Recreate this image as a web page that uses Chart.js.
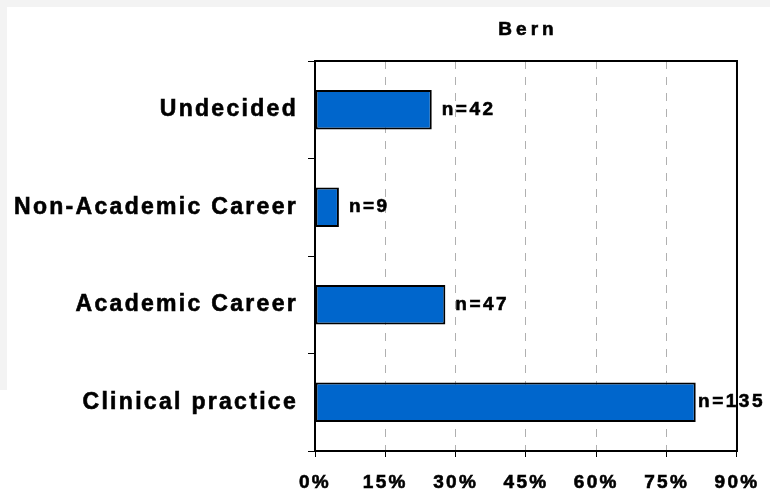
<!DOCTYPE html>
<html>
<head>
<meta charset="utf-8">
<script src="https://cdn.jsdelivr.net/npm/chart.js@4/dist/chart.umd.min.js"></script>
<style>
    body { margin: 0; background: #ffffff; }
    #wrap { position: relative; width: 770px; height: 498px; overflow: hidden; }
    .strip { position: absolute; background: #f3f3f3; }
    #chart { position: absolute; left: 0; top: 0; }
</style>
</head>
<body>
<div id="wrap">
    <div class="strip" style="left:0;top:0;width:770px;height:7px"></div>
    <div class="strip" style="left:0;top:0;width:7px;height:390px"></div>
    <canvas id="chart" width="770" height="498"></canvas>
</div>
<script>
// datos (porcentaje y n por categoria)
var categories = ['Undecided', 'Non-Academic Career', 'Academic Career', 'Clinical practice'];
var percentValues = [24.9, 5.1, 27.8, 81.2];
var countValues = [42, 9, 47, 135];
var xTicks = [0, 15, 30, 45, 60, 75, 90];
var chartTitle = 'Bern';

Chart.defaults.font.family = "'Liberation Sans', Arial, sans-serif";
Chart.defaults.font.weight = 'bold';
Chart.defaults.color = '#000000';

// espaciado de letras para los textos de los ejes
var spacingPlugin = {
    id: 'spacing',
    beforeDraw: function (chart) {
        chart.ctx.letterSpacing = '2.3px';
    }
};

function drawText(ctx, text, x, y) {
    ctx.fillText(text, x, y);
    ctx.strokeText(text, x, y);
}

// etiquetas n=.. , titulo y marco
var labelsPlugin = {
    id: 'nLabels',
    afterDatasetsDraw: function (chart) {
        var ctx = chart.ctx;
        var meta = chart.getDatasetMeta(0);
        ctx.save();
        ctx.font = "bold 19px 'Liberation Sans', Arial, sans-serif";
        ctx.letterSpacing = '2.5px';
        ctx.fillStyle = '#000000';
        ctx.strokeStyle = '#000000';
        ctx.lineWidth = 0.6;
        ctx.textAlign = 'left';
        ctx.textBaseline = 'middle';
        meta.data.forEach(function (bar, i) {
            var text = 'n=' + countValues[i];
            var w = ctx.measureText(text).width;
            var x = Math.min(bar.x + 10, 765 - w);
            drawText(ctx, text, x, bar.y);
        });

        var area = chart.chartArea;
        ctx.font = "bold 19px 'Liberation Sans', Arial, sans-serif";
        ctx.letterSpacing = '4px';
        ctx.textAlign = 'center';
        ctx.textBaseline = 'alphabetic';
        drawText(ctx, chartTitle, (area.left + area.right) / 2 + 2, 34.5);
        ctx.restore();
    },
    afterDraw: function (chart) {
        var ctx = chart.ctx;
        var area = chart.chartArea;
        ctx.save();
        ctx.strokeStyle = '#000000';
        ctx.lineWidth = 2;
        ctx.strokeRect(area.left, area.top, area.right - area.left, area.bottom - area.top);
        ctx.restore();
    }
};

var ctx = document.getElementById('chart').getContext('2d');
var careerChart = new Chart(ctx, {
    type: 'bar',
    data: {
        labels: categories,
        datasets: [{
            data: percentValues,
            backgroundColor: '#0066cc',
            borderColor: '#000000',
            borderWidth: 2,
            borderSkipped: false,
            barPercentage: 0.404,
            categoryPercentage: 1
        }]
    },
    options: {
        indexAxis: 'y',
        responsive: false,
        animation: false,
        layout: {
            padding: { top: 61, right: 27, left: 0, bottom: 0 }
        },
        plugins: {
            legend: { display: false },
            tooltip: { enabled: false }
        },
        scales: {
            x: {
                min: 0,
                max: 90,
                afterBuildTicks: function (scale) {
                    scale.ticks = xTicks.map(function (v) { return { value: v }; });
                },
                afterFit: function (scale) { scale.height = 47; },
                ticks: {
                    font: { size: 19, weight: 'bold' },
                    color: '#000000',
                    textStrokeColor: '#000000',
                    textStrokeWidth: 0.6,
                    padding: 14,
                    maxRotation: 0,
                    callback: function (v) { return v + '%'; }
                },
                grid: {
                    color: '#b0b0b0',
                    lineWidth: 1,
                    tickColor: '#000000',
                    tickLength: 6,
                    tickWidth: 1,
                    tickBorderDash: []
                },
                border: { color: '#000000', width: 2, dash: [8, 8] }
            },
            y: {
                afterFit: function (scale) { scale.width = 315; },
                ticks: {
                    font: { size: 23, weight: 'bold' },
                    color: '#000000',
                    textStrokeColor: '#000000',
                    textStrokeWidth: 0.6,
                    padding: 10
                },
                grid: {
                    drawOnChartArea: false,
                    offset: true,
                    tickColor: '#000000',
                    tickLength: 7,
                    tickWidth: 1
                },
                border: { color: '#000000', width: 2 }
            }
        }
    },
    plugins: [spacingPlugin, labelsPlugin]
});
</script>
</body>
</html>
